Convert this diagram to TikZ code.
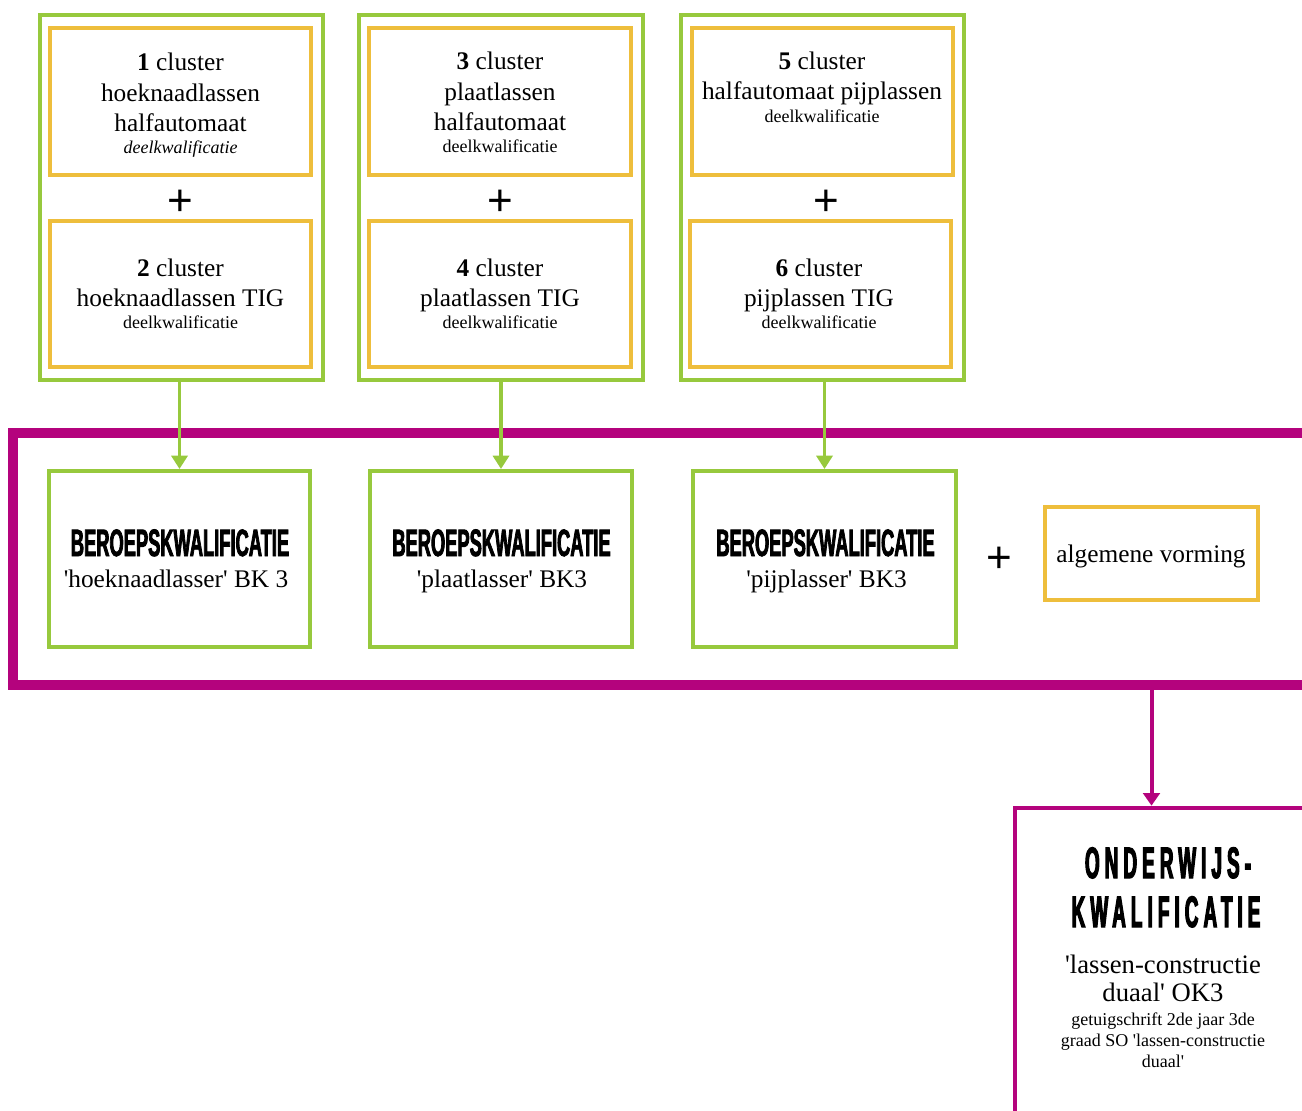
\documentclass[tikz,border=0pt]{standalone}
\usepackage{fontspec}
\setmainfont{Liberation Serif}
\newfontfamily\dkplus{Liberation Sans}
\newfontfamily\dkbebas[FakeStretch=0.48,FakeBold=2]{Liberation Sans Bold}
\newfontfamily\dkbebassp[FakeStretch=0.43,FakeBold=2.5,LetterSpace=11.5]{Liberation Sans Bold}
\usetikzlibrary{arrows.meta,fit}
\definecolor{dkgreen}{HTML}{97C93D}
\definecolor{dkyellow}{HTML}{EEBE3C}
\definecolor{dkmag}{HTML}{B4037D}
\newcommand\dkmain{\fontsize{19}{23}\selectfont}
\newcommand\dksmall{\fontsize{13.5}{16}\selectfont}
\newcommand\dkq{\textquotesingle}
\begin{document}
\begin{tikzpicture}[x=0.75pt,y=-0.75pt,
  grp/.style={draw=dkgreen,line width=3pt,inner sep=0pt},
  clu/.style={draw=dkyellow,line width=3.5pt,inner sep=0pt},
  bk/.style={draw=dkgreen,line width=3pt,inner sep=0pt},
  frm/.style={draw=dkmag,line width=7.5pt,inner sep=0pt},
  okb/.style={draw=dkmag,line width=3.5pt,inner sep=0pt},
  tx/.style={anchor=base,inner sep=0pt,font=\dkmain},
  ts/.style={anchor=base,inner sep=0pt,font=\dksmall},
  tb/.style={anchor=base,inner sep=0pt,font=\dkbebas\fontsize{28.6}{30}\selectfont},
  tok/.style={anchor=base,inner sep=0pt,font=\dkbebassp\fontsize{33}{35}\selectfont},
  plus/.style={inner sep=0pt,font=\dkplus\fontsize{33}{33}\selectfont},
  garr/.style={draw=dkgreen,line width=2.6pt,-{Triangle[width=12pt,length=10pt]}},
  marr/.style={draw=dkmag,line width=3pt,-{Triangle[width=12.5pt,length=9.5pt]}}]
\useasboundingbox (0,0) rectangle (1302,1110);

% group boxes
\node[grp, fit={(40,15)(323,380)}] (G1) {};
\node[grp, fit={(359,15)(643,380)}] (G2) {};
\node[grp, fit={(681,15)(964,380)}] (G3) {};
% cluster boxes
\node[clu, fit={(50,28)(311,175)}] (Y1) {};
\node[clu, fit={(50,221)(311,367)}] (Y2) {};
\node[clu, fit={(369,28)(631,175)}] (Y3) {};
\node[clu, fit={(369,221)(631,367)}] (Y4) {};
\node[clu, fit={(692,28)(953,175)}] (Y5) {};
\node[clu, fit={(690,221)(951,367)}] (Y6) {};

% cluster texts
\node[tx] (t1a) at (180.5,70) {\textbf{1} cluster};
\node[tx] (t1b) at (180.5,101) {hoeknaadlassen};
\node[tx] (t1c) at (180.5,131) {halfautomaat};
\node[ts] (t1d) at (180.5,153) {\itshape deelkwalificatie};
\node[tx] (t2a) at (180.5,276) {\textbf{2} cluster};
\node[tx] (t2b) at (180.5,306) {hoeknaadlassen TIG};
\node[ts] (t2c) at (180.5,328) {deelkwalificatie};

\node[tx] (t3a) at (500,69) {\textbf{3} cluster};
\node[tx] (t3b) at (500,100) {plaatlassen};
\node[tx] (t3c) at (500,130) {halfautomaat};
\node[ts] (t3d) at (500,152) {deelkwalificatie};
\node[tx] (t4a) at (500,276) {\textbf{4} cluster};
\node[tx] (t4b) at (500,306) {plaatlassen TIG};
\node[ts] (t4c) at (500,328) {deelkwalificatie};

\node[tx] (t5a) at (822,69) {\textbf{5} cluster};
\node[tx] (t5b) at (822,99) {halfautomaat pijplassen};
\node[ts] (t5c) at (822,122) {deelkwalificatie};
\node[tx] (t6a) at (819,276) {\textbf{6} cluster};
\node[tx] (t6b) at (819,306) {pijplassen TIG};
\node[ts] (t6c) at (819,328) {deelkwalificatie};

\node[plus] (p1) at (180,203) {+};
\node[plus] (p2) at (500,203) {+};
\node[plus] (p3) at (826.5,203) {+};

% big frame
\node[frm, fit={(13,433)(1340,685)}] (frame) {};
\node[bk, fit={(49,471)(310,647)}] (B1) {};
\node[bk, fit={(370,471)(632,647)}] (B2) {};
\node[bk, fit={(693,471)(956,647)}] (B3) {};
\node[clu, fit={(1045,507)(1258,600)}] (alg) {};

\node[tb] (b1a) at (180,556) {BEROEPSKWALIFICATIE};
\node[tx] (b1b) at (176,587) {\dkq hoeknaadlasser\dkq{} BK 3};
\node[tb] (b2a) at (501.5,556) {BEROEPSKWALIFICATIE};
\node[tx] (b2b) at (502,587) {\dkq plaatlasser\dkq{} BK3};
\node[tb] (b3a) at (825.5,556) {BEROEPSKWALIFICATIE};
\node[tx] (b3b) at (826.5,587) {\dkq pijplasser\dkq{} BK3};

\node[plus] (p4) at (999,560) {+};
\node[tx] (algt) at (1151,562) {algemene vorming};

% OK box
\node[okb, fit={(1015,808)(1340,1140)}] (okbox) {};
\node[tok] (o1) at (1168,878) {ONDERWIJS-};
\node[tok] (o2) at (1166,927) {KWALIFICATIE};
\node[tx, font=\fontsize{20}{24}\selectfont] (o3) at (1163,973) {\dkq lassen-constructie};
\node[tx, font=\fontsize{20}{24}\selectfont] (o4) at (1163,1001) {duaal\dkq{} OK3};
\node[ts] (o5) at (1163,1025) {getuigschrift 2de jaar 3de};
\node[ts] (o6) at (1163,1046) {graad SO \dkq lassen-constructie};
\node[ts] (o7) at (1163,1067) {duaal\dkq};

% connectors
\draw[garr] (G1.south -| B1.north) -- (B1.north);
\draw[garr] (G2.south -| B2.north) -- (B2.north);
\draw[garr] (G3.south -| B3.north) -- (B3.north);
\draw[marr] (frame.south -| alg.center) -- (okbox.north -| alg.center);
\end{tikzpicture}
\end{document}
